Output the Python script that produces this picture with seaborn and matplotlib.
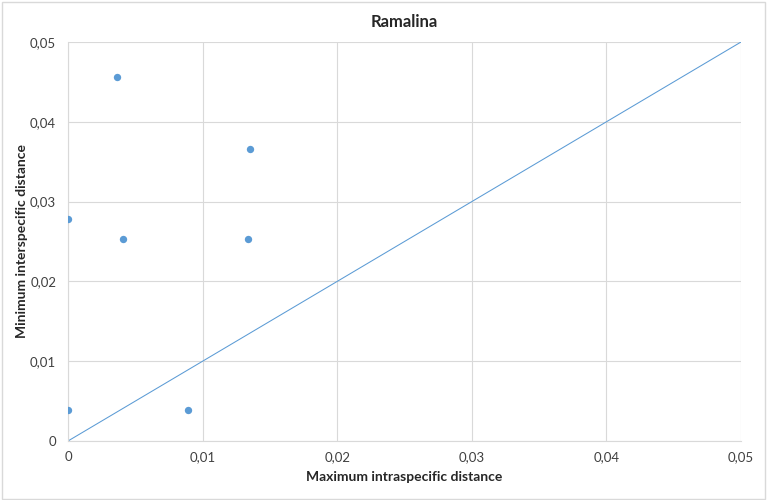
import matplotlib
matplotlib.use("Agg")
import matplotlib.pyplot as plt
import seaborn as sns
import pandas as pd
from matplotlib.ticker import FuncFormatter, MultipleLocator
from matplotlib.patches import Rectangle

# Значения
max_intra = [0.00364, 0.01352, 0.0, 0.00409, 0.01337, 0.0, 0.00892]
min_inter = [0.0456, 0.0366, 0.0278, 0.0253, 0.0253, 0.0039, 0.0039]
diag_x = [0.0, 0.05]
diag_y = [0.0, 0.05]

df = pd.DataFrame({'intra': max_intra, 'inter': min_inter})

sns.set_theme(style='white')
plt.rcParams['font.family'] = ['Lato', 'DejaVu Sans']

fig = plt.figure(figsize=(7.67, 5), dpi=100)
ax = fig.add_axes([68 / 767, 59 / 500, 673 / 767, 399 / 500])

blue = '#5B9BD5'
ax.plot(diag_x, diag_y, color=blue, lw=0.75, zorder=2)
sns.scatterplot(data=df, x='intra', y='inter', ax=ax, color=blue, s=28,
                edgecolor=blue, linewidth=0, zorder=3)

ax.set_xlim(0, 0.05)
ax.set_ylim(0, 0.05)
ax.xaxis.set_major_locator(MultipleLocator(0.01))
ax.yaxis.set_major_locator(MultipleLocator(0.01))

fmt = FuncFormatter(lambda v, p: '0' if abs(v) < 1e-9 else f'{v:.2f}'.replace('.', ','))
ax.xaxis.set_major_formatter(fmt)
ax.yaxis.set_major_formatter(fmt)

ax.grid(True, color='#D9D9D9', lw=0.8)
ax.set_axisbelow(True)
for side in ['top', 'right']:
    ax.spines[side].set_visible(False)
for side in ['left', 'bottom']:
    ax.spines[side].set_color('#D9D9D9')
    ax.spines[side].set_linewidth(0.8)

ax.tick_params(axis='both', length=0, labelsize=9.5, colors='#404040')
ax.tick_params(axis='x', pad=7)
ax.tick_params(axis='y', pad=8.5)

ax.set_xlabel('Maximum intraspecific distance', fontsize=10, fontweight='bold',
              color='#262626')
ax.set_ylabel('Minimum interspecific distance', fontsize=10, fontweight='bold',
              color='#262626')
ax.xaxis.set_label_coords(0.5, -0.074)
ax.yaxis.set_label_coords(-0.06, 0.5)
ax.set_title('Ramalina', fontsize=12, fontweight='bold', color='#262626', pad=11)

fig.patches.append(Rectangle((0.002, 0.003), 0.996, 0.994, transform=fig.transFigure,
                             fill=False, edgecolor='#D9D9D9', lw=1))

fig.savefig('out.png', dpi=100)
